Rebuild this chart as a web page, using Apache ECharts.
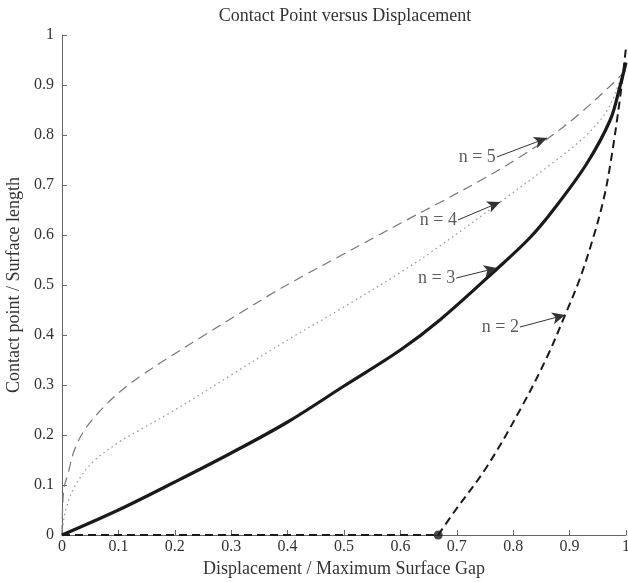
<!DOCTYPE html>
<html>
<head>
<meta charset="utf-8">
<script src="https://cdn.jsdelivr.net/npm/echarts@6/dist/echarts.min.js"></script>
<style>html,body{margin:0;padding:0;background:#fff}#c{width:628px;height:582px}</style>
</head>
<body>
<div id="c"></div>
<script>
// ---- data ----
const n2Points = [[0,0],[0.667,0],[0.694,0.044],[0.753,0.136],[0.812,0.25],[0.86,0.356],[0.892,0.44],[0.918,0.512],[0.942,0.595],[0.96,0.67],[0.972,0.74],[0.989,0.87],[1,0.975]];
const n3Points = [[0,0],[0.1,0.05],[0.2,0.106],[0.3,0.164],[0.4,0.226],[0.5,0.298],[0.6,0.37],[0.67,0.43],[0.771,0.532],[0.83,0.595],[0.871,0.65],[0.93,0.742],[0.972,0.83],[0.989,0.896],[1,0.945]];
const n4Points = [[0,0],[0.003,0.03],[0.008,0.056],[0.022,0.096],[0.052,0.143],[0.1,0.185],[0.13,0.205],[0.2,0.25],[0.3,0.32],[0.4,0.39],[0.5,0.456],[0.6,0.525],[0.67,0.578],[0.777,0.666],[0.871,0.745],[0.93,0.8],[0.967,0.85],[0.99,0.91],[1,0.935]];
const n5Points = [[0,0],[0.003,0.09],[0.011,0.124],[0.022,0.17],[0.04,0.21],[0.064,0.244],[0.093,0.277],[0.12,0.302],[0.142,0.32],[0.188,0.354],[0.25,0.398],[0.316,0.444],[0.374,0.484],[0.434,0.522],[0.493,0.558],[0.552,0.594],[0.611,0.63],[0.67,0.665],[0.753,0.716],[0.812,0.756],[0.86,0.792],[0.913,0.838],[0.972,0.898],[1,0.93]];
const contactStart = [[0.667,0]];
const annotationText = ['n = 5','n = 4','n = 3','n = 2'];
const arrowFrom = [[0.771,0.756],[0.702,0.63],[0.699,0.514],[0.812,0.416]];
const arrowTo = [[0.86,0.794],[0.777,0.666],[0.771,0.534],[0.892,0.44]];
const xTickStep = 0.1;
const yTickStep = 0.1;

const FONT = 'Liberation Serif';
const chart = echarts.init(document.getElementById('c'), null, {renderer:'canvas'});
const axisColor = '#666';
const txt = '#333';
const n2Flat = n2Points.slice(0, 2);
const n2Rise = n2Points.slice(1);

chart.setOption({
  animation: false,
  backgroundColor: '#fff',
  title: {
    text: 'Contact Point versus Displacement',
    left: 340, top: 2, textAlign: 'center',
    textStyle: {fontFamily: FONT, fontSize: 18, fontWeight: 'normal', color: txt}
  },
  grid: {left: 62, right: 2, top: 35, bottom: 47, containLabel: false, outerBoundsMode: 'none'},
  xAxis: {
    type: 'value', min: 0, max: 1, interval: xTickStep,
    name: 'Displacement / Maximum Surface Gap', nameLocation: 'middle', nameGap: 21,
    nameTextStyle: {fontFamily: FONT, fontSize: 18, color: txt},
    axisLine: {show: true, lineStyle: {color: axisColor, width: 1}},
    axisTick: {show: true, inside: true, length: 5, lineStyle: {color: axisColor}},
    axisLabel: {fontFamily: FONT, fontSize: 16, color: txt, margin: 4},
    splitLine: {show: false}
  },
  yAxis: {
    type: 'value', min: 0, max: 1, interval: yTickStep,
    name: 'Contact point / Surface length', nameLocation: 'middle', nameGap: 32,
    nameTextStyle: {fontFamily: FONT, fontSize: 18, color: txt},
    axisLine: {show: true, lineStyle: {color: axisColor, width: 1}},
    axisTick: {show: true, inside: true, length: 5, lineStyle: {color: axisColor}},
    axisLabel: {fontFamily: FONT, fontSize: 16, color: txt, margin: 8},
    splitLine: {show: false}
  },
  series: [
    {type: 'line', name: 'n=5', data: n5Points, showSymbol: false, smooth: 0.35,
     lineStyle: {color: '#777', width: 1.2, type: [10, 6]}},
    {type: 'line', name: 'n=4', data: n4Points, showSymbol: false, smooth: 0.35,
     lineStyle: {color: '#999', width: 1.3, type: [1.5, 3.5]}},
    {type: 'line', name: 'n=3', data: n3Points, showSymbol: false, smooth: 0.35,
     lineStyle: {color: '#1a1a1a', width: 3.2, type: 'solid'}},
    {type: 'line', name: 'n=2', data: n2Flat, showSymbol: false, smooth: false,
     lineStyle: {color: '#1a1a1a', width: 2, type: [8, 5]}},
    {type: 'line', name: 'n=2', data: n2Rise, showSymbol: false, smooth: 0.35,
     lineStyle: {color: '#1a1a1a', width: 2, type: [8, 5]}},
    {type: 'scatter', data: contactStart, symbol: 'circle', symbolSize: 9, itemStyle: {color: '#1a1a1a'}, z: 5},
    {type: 'line', data: [], silent: true,
     markLine: {
       silent: true, symbol: ['none', 'arrow'], symbolSize: [9, 13],
       lineStyle: {color: '#333', width: 1, type: 'solid'},
       label: {show: false},
       data: arrowFrom.map((p, i) => [{coord: p}, {coord: arrowTo[i]}])
     }},
    {type: 'scatter', symbolSize: 0, silent: true,
     data: arrowFrom.map((p, i) => ({name: annotationText[i], value: p})),
     label: {show: true, position: 'left', distance: 1, formatter: p => p.name,
             fontFamily: FONT, fontSize: 18, color: txt}}
  ]
});
</script>
</body>
</html>
